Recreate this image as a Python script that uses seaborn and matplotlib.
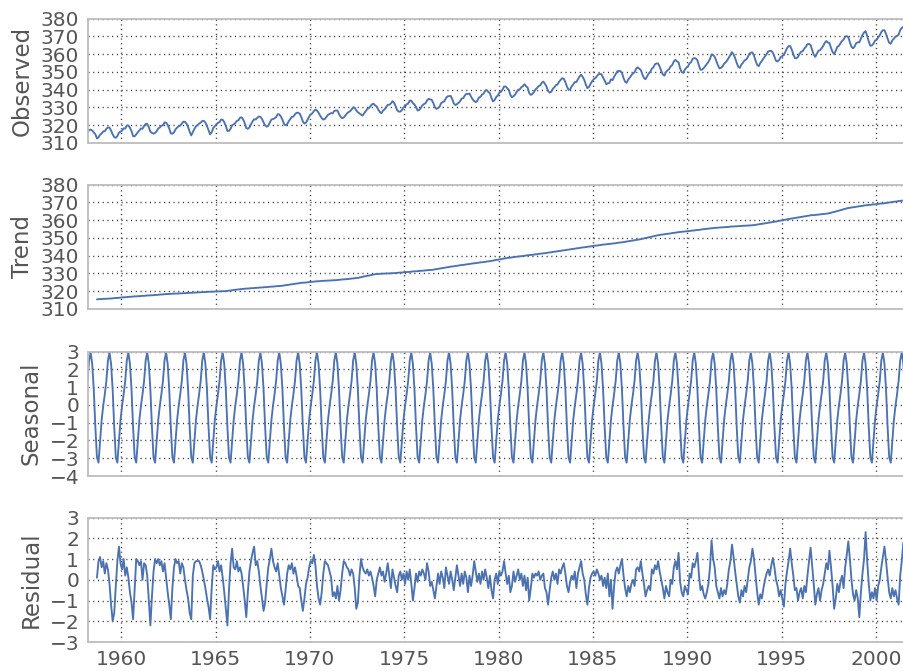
import numpy as np
import pandas as pd
import matplotlib
matplotlib.use("Agg")
import matplotlib.pyplot as plt
import seaborn as sns

# Monthly CO2 record (ppm), March 1958 - December 2001, and its additive decomposition
start_month = "1958-03"
end_month = "2001-12"

# one seasonal cycle, January .. December
seasonal_cycle = [-0.05, 0.6, 1.35, 2.5, 2.95, 2.3, 0.85, -1.25, -2.95, -3.25, -2.05, -0.85]

# observed values where the centred moving average is undefined
observed_head = [316.1, 317.3, 317.5, 317.0, 315.9, 314.9]   # Mar - Aug 1958
observed_tail = [371.3, 369.4, 367.9, 368.0, 369.6, 371.1]   # Jul - Dec 2001

# trend, September 1958 - June 2001
trend = [
    315.4, 315.5, 315.6, 315.6,
    315.7, 315.7, 315.8, 315.8, 315.9, 315.9, 316.0, 316.1, 316.2, 316.2, 316.3, 316.4,
    316.5, 316.6, 316.6, 316.7, 316.8, 316.9, 316.9, 317.0, 317.1, 317.1, 317.2, 317.2,
    317.3, 317.4, 317.4, 317.5, 317.6, 317.6, 317.7, 317.7, 317.8, 317.9, 317.9, 318.0,
    318.1, 318.2, 318.2, 318.3, 318.4, 318.4, 318.5, 318.5, 318.6, 318.6, 318.7, 318.7,
    318.7, 318.8, 318.8, 318.9, 318.9, 319.0, 319.0, 319.1, 319.1, 319.2, 319.2, 319.3,
    319.3, 319.4, 319.4, 319.5, 319.5, 319.6, 319.6, 319.7, 319.7, 319.7, 319.8, 319.8,
    319.9, 319.9, 319.9, 320.0, 320.0, 320.0, 320.1, 320.2, 320.3, 320.4, 320.5, 320.7,
    320.8, 320.9, 321.0, 321.1, 321.2, 321.3, 321.4, 321.5, 321.5, 321.6, 321.7, 321.7,
    321.8, 321.9, 321.9, 322.0, 322.1, 322.1, 322.2, 322.3, 322.3, 322.4, 322.5, 322.6,
    322.6, 322.7, 322.8, 322.9, 322.9, 323.0, 323.1, 323.2, 323.4, 323.5, 323.6, 323.8,
    323.9, 324.0, 324.2, 324.3, 324.4, 324.6, 324.7, 324.8, 324.8, 324.9, 325.0, 325.1,
    325.2, 325.3, 325.4, 325.5, 325.6, 325.6, 325.7, 325.8, 325.8, 325.9, 325.9, 326.0,
    326.0, 326.1, 326.1, 326.2, 326.2, 326.3, 326.4, 326.5, 326.6, 326.7, 326.7, 326.8,
    326.9, 327.0, 327.1, 327.2, 327.3, 327.4, 327.5, 327.7, 327.9, 328.1, 328.3, 328.5,
    328.7, 328.8, 329.0, 329.2, 329.4, 329.6, 329.7, 329.7, 329.8, 329.8, 329.9, 329.9,
    330.0, 330.0, 330.0, 330.1, 330.1, 330.2, 330.2, 330.3, 330.4, 330.5, 330.5, 330.6,
    330.7, 330.8, 330.8, 330.9, 331.0, 331.1, 331.2, 331.2, 331.3, 331.4, 331.5, 331.5,
    331.6, 331.7, 331.8, 331.9, 331.9, 332.0, 332.1, 332.3, 332.4, 332.6, 332.7, 332.9,
    333.0, 333.2, 333.3, 333.5, 333.6, 333.8, 333.9, 334.0, 334.2, 334.3, 334.4, 334.6,
    334.7, 334.8, 334.9, 335.1, 335.2, 335.3, 335.5, 335.6, 335.7, 335.8, 335.9, 336.1,
    336.2, 336.3, 336.4, 336.5, 336.7, 336.8, 336.9, 337.1, 337.2, 337.4, 337.6, 337.7,
    337.9, 338.0, 338.2, 338.4, 338.5, 338.7, 338.8, 338.9, 339.0, 339.2, 339.3, 339.4,
    339.5, 339.6, 339.7, 339.8, 339.9, 340.1, 340.2, 340.3, 340.4, 340.5, 340.6, 340.7,
    340.8, 341.0, 341.1, 341.2, 341.3, 341.4, 341.5, 341.7, 341.8, 341.9, 342.1, 342.2,
    342.3, 342.5, 342.6, 342.7, 342.9, 343.0, 343.1, 343.3, 343.4, 343.5, 343.7, 343.8,
    343.9, 344.1, 344.2, 344.3, 344.5, 344.6, 344.7, 344.8, 345.0, 345.1, 345.2, 345.3,
    345.5, 345.6, 345.7, 345.8, 345.9, 346.1, 346.2, 346.3, 346.4, 346.5, 346.6, 346.7,
    346.8, 346.9, 347.0, 347.2, 347.3, 347.4, 347.5, 347.6, 347.8, 347.9, 348.1, 348.2,
    348.4, 348.5, 348.7, 348.8, 349.0, 349.1, 349.3, 349.5, 349.7, 349.9, 350.1, 350.3,
    350.5, 350.7, 350.9, 351.1, 351.3, 351.5, 351.6, 351.8, 351.9, 352.0, 352.2, 352.3,
    352.4, 352.5, 352.7, 352.8, 352.9, 353.1, 353.2, 353.3, 353.4, 353.5, 353.6, 353.7,
    353.8, 353.9, 354.0, 354.1, 354.2, 354.3, 354.4, 354.5, 354.6, 354.8, 354.9, 355.0,
    355.1, 355.2, 355.3, 355.4, 355.5, 355.6, 355.7, 355.7, 355.8, 355.9, 355.9, 356.0,
    356.1, 356.1, 356.2, 356.3, 356.4, 356.4, 356.5, 356.5, 356.6, 356.6, 356.7, 356.8,
    356.8, 356.9, 356.9, 357.0, 357.0, 357.1, 357.2, 357.3, 357.5, 357.6, 357.8, 357.9,
    358.0, 358.2, 358.3, 358.5, 358.6, 358.8, 358.9, 359.1, 359.2, 359.4, 359.6, 359.7,
    359.9, 360.1, 360.2, 360.4, 360.6, 360.7, 360.9, 361.0, 361.2, 361.3, 361.5, 361.6,
    361.8, 361.9, 362.1, 362.2, 362.4, 362.5, 362.7, 362.8, 362.8, 362.9, 363.0, 363.1,
    363.2, 363.3, 363.4, 363.5, 363.6, 363.7, 363.9, 364.1, 364.4, 364.6, 364.8, 365.1,
    365.3, 365.6, 365.8, 366.1, 366.3, 366.6, 366.8, 366.9, 367.1, 367.2, 367.3, 367.5,
    367.6, 367.8, 367.9, 368.0, 368.2, 368.3, 368.4, 368.5, 368.6, 368.7, 368.8, 368.9,
    369.0, 369.1, 369.2, 369.3, 369.4, 369.5, 369.6, 369.8, 369.9, 370.0, 370.2, 370.3,
    370.4, 370.5, 370.7, 370.8, 370.9, 371.1,
]

# residual, September 1958 - June 2001
residual = [
    0.1, 0.9, 1.1, 0.6,
    0.9, 0.3, 0.8, 0.5, -0.2, -1.2, -2.0, -1.6, -0.3, 0.9, 1.6, 0.8,
    0.5, 1.0, 0.2, 0.6, 0.1, -0.6, -1.1, -1.9, -0.4, 1.0, 0.9, 0.7,
    0.9, 0.0, 0.8, 0.7, 0.2, -1.0, -2.2, -0.8, 0.4, 1.0, 0.8, 1.0,
    0.7, 0.9, 0.4, 0.8, 0.1, -0.6, -1.2, -1.9, -0.4, 0.6, 1.0, 0.8,
    0.9, 0.3, 0.8, 0.6, 0.0, -0.5, -0.9, -1.6, -1.9, 0.2, 0.8, 0.9,
    0.9, 0.9, 0.7, 0.4, 0.0, -0.4, -0.9, -1.3, -1.9, -0.4, 0.7, 0.5,
    0.6, 0.9, 0.4, 0.7, 0.1, -0.6, -1.4, -2.2, -0.5, 0.8, 1.5, 0.6,
    0.5, 0.9, 0.4, 0.6, 0.3, -0.3, -1.0, -1.8, -0.6, 0.4, 0.9, 1.3,
    1.6, 0.7, 0.9, 0.4, -0.3, -0.9, -1.5, -1.1, -0.2, 0.6, 1.0, 1.5,
    0.9, 0.6, 0.4, 0.8, 0.2, -0.4, -0.8, -1.2, -0.5, 0.3, 0.7, 0.5,
    0.8, 0.3, 0.6, 0.2, -0.3, -0.4, -1.0, -1.5, -0.9, -0.2, 0.1, 0.6,
    0.9, 0.8, 1.2, 0.7, -0.3, -0.9, -1.2, -0.6, 0.3, 0.9, 0.8, 0.7,
    0.4, 0.1, -0.8, -0.6, -0.9, -0.3, -1.0, -0.5, 0.3, 0.9, 0.8, 0.6,
    0.5, 0.2, 0.5, 0.3, -0.4, -1.4, -1.1, 0.2, 1.0, 0.6, 0.4, 0.3,
    0.5, 0.2, 0.4, 0.1, -0.3, -0.8, 0.0, 0.3, 0.6, 0.2, 0.4, -0.1,
    0.3, 0.8, 0.2, -0.4, 0.5, 0.1, -0.3, -0.6, 0.2, 0.4, 0.0, 0.3,
    -0.2, 0.4, 0.0, 0.5, -0.2, -1.0, -0.4, 0.3, -0.1, 0.4, 0.2, 0.5,
    0.3, 0.0, 0.8, 0.4, -0.3, -0.1, -0.5, -0.9, -0.3, 0.3, -0.2, 0.4,
    0.1, -0.4, 0.6, 0.2, -0.2, 0.4, 0.0, -0.5, 0.1, 0.7, 0.2, -0.3,
    0.3, -0.2, 0.4, 0.1, -0.6, 0.2, -0.3, 0.2, 0.9, 0.4, -0.1, 0.3,
    -0.2, 0.4, 0.0, 0.5, 0.1, -0.4, 0.2, -0.5, -0.9, 0.0, 0.3, -0.2,
    0.4, 0.2, 0.4, 0.9, 0.3, -0.2, 0.2, -0.6, -0.3, 0.4, -0.1, 0.2,
    0.5, 0.0, 0.3, -0.3, 0.2, -0.5, 0.1, -1.0, -0.4, 0.3, 0.1, 0.3,
    0.2, 0.4, 0.0, 0.2, 0.3, -0.4, -0.6, -1.2, -0.5, 0.1, 0.4, 0.0,
    0.3, -0.2, 0.5, 0.3, 0.6, 0.8, 0.3, -0.3, -0.6, -0.1, 0.2, 0.0,
    0.4, -0.4, 0.3, 0.6, 0.9, 0.3, 0.0, -0.7, -1.2, -0.4, 0.1, 0.3,
    0.4, 0.2, 0.5, 0.3, 0.0, 0.2, -0.3, 0.1, -0.4, 0.3, -0.8, 0.0,
    -1.4, -0.3, 0.4, 0.6, 0.3, 0.7, 1.0, 0.2, -0.4, -0.8, -0.3, -0.6,
    -0.2, 0.0, -0.3, 0.5, 0.6, 0.4, 0.9, 0.3, -0.2, -0.8, -0.5, -0.3,
    -0.5, 0.5, 0.3, 0.7, 0.5, 0.9, 0.4, 0.0, -0.4, -0.9, -0.3, -0.6,
    -0.8, 0.0, -0.2, 0.6, 0.9, 0.5, 1.3, -0.1, -0.6, -0.8, -0.3, -0.5,
    -0.7, 0.3, 0.1, 0.8, 0.6, 0.9, 1.3, 0.2, -0.5, -0.3, -0.7, -0.9,
    -0.6, -0.2, 0.6, 1.9, 1.0, 0.6, -0.3, -0.6, -0.9, -0.4, -0.8, -0.5,
    -0.7, -0.2, 0.5, 0.9, 1.7, 1.1, 0.4, -0.2, -0.8, -1.1, -0.5, -0.8,
    -0.3, -0.6, 0.0, 0.6, 0.9, 1.5, 1.0, 0.2, -0.6, -1.2, -0.7, -0.9,
    -0.4, 0.0, 0.3, 0.5, 0.2, 0.7, 1.05, 0.6, 0.0, -0.3, -0.8, -0.5,
    -0.9, -1.3, -0.2, 0.4, 0.9, 1.5, 0.8, 0.2, -0.5, -0.4, -1.0, -0.6,
    -0.4, -0.9, -0.3, -0.6, 0.2, 0.9, 1.55, 0.7, -0.2, -1.2, -0.7, -0.4,
    -1.0, -0.5, -0.2, 0.3, 0.8, 0.5, 1.4, 0.6, -0.3, -1.4, -0.9, -0.2,
    -0.6, -0.1, 0.2, -0.4, 0.6, 1.2, 1.85, 1.0, 0.0, -0.7, -1.0, -0.5,
    -0.9, -1.8, -0.6, 0.3, 1.0, 2.3, 0.9, -0.2, -1.0, -0.6, -0.9, -0.4,
    -1.0, -0.3, 0.0, 0.6, 1.1, 1.6, 0.9, 0.1, -0.6, -0.9, -0.4, -0.8,
    -0.5, -0.9, -1.2, 0.2, 0.9, 1.8,
]

panel_names = ["Observed", "Trend", "Seasonal", "Residual"]
panel_yticks = [list(range(310, 381, 10)), list(range(310, 381, 10)),
                list(range(-4, 4)), list(range(-3, 4))]
year_ticks = [1960, 1965, 1970, 1975, 1980, 1985, 1990, 1995, 2000]

# ---- assemble the monthly table -------------------------------------------
periods = pd.period_range(start_month, end_month, freq="M")
n = len(periods)
n_edge = len(observed_head)
assert len(trend) == n - 2 * n_edge and len(residual) == len(trend)

frame = pd.DataFrame({
    "year": periods.year + (periods.month - 0.5) / 12.0,
    "month": periods.month,
})
frame["seasonal"] = [seasonal_cycle[m - 1] for m in frame["month"]]
frame["trend"] = [np.nan] * n_edge + trend + [np.nan] * n_edge
frame["residual"] = [np.nan] * n_edge + residual + [np.nan] * n_edge
inner = frame["trend"] + frame["seasonal"] + frame["residual"]
frame["observed"] = observed_head + list(inner.iloc[n_edge:n - n_edge]) + observed_tail

# ---- styling ---------------------------------------------------------------
sns.set_style("whitegrid")
text_grey = "#555555"
plt.rcParams.update({
    "font.family": ["DejaVu Sans"],
    "axes.edgecolor": "#bdbdbd",
    "axes.linewidth": 1.3,
    "axes.labelcolor": text_grey,
    "xtick.color": text_grey,
    "ytick.color": text_grey,
    "text.color": text_grey,
    "grid.color": "#333333",
    "grid.linewidth": 1.0,
    "grid.linestyle": (0, (0.8, 2.6)),
})

fig = plt.figure(figsize=(9.04, 6.71), dpi=100)
left, width, height = 0.0968, 0.9129, 0.1855
bottoms = [0.7869, 0.5395, 0.2906, 0.0432]
columns = ["observed", "trend", "seasonal", "residual"]
line_color = "#4C72B0"

for i, (col, name) in enumerate(zip(columns, panel_names)):
    ax = fig.add_axes([left, bottoms[i], width, height])
    sns.lineplot(data=frame, x="year", y=col, ax=ax, color=line_color,
                 linewidth=1.35, estimator=None, sort=False)
    ax.set_xlim(frame["year"].iloc[0], frame["year"].iloc[-1])
    yt = panel_yticks[i]
    ax.set_ylim(yt[0], yt[-1])
    ax.set_yticks(yt)
    ax.set_xticks(year_ticks)
    ax.grid(True, which="major", axis="both")
    ax.tick_params(axis="both", length=0, labelsize=14.5, pad=6)
    ax.set_ylabel(name, fontsize=16.5, labelpad=5)
    ax.set_xlabel("")
    if i < 3:
        ax.set_xticklabels([])
    else:
        ax.set_xticklabels([str(y) for y in year_ticks])
    for side in ["top", "bottom", "left", "right"]:
        ax.spines[side].set_visible(True)

fig.savefig("out.png", dpi=100)
